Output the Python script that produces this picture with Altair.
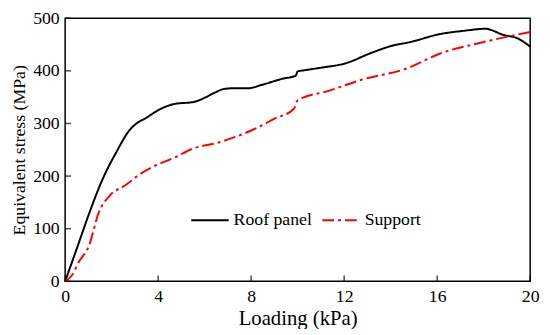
import altair as alt
import pandas as pd

roof_x = [0, 0.5, 1.0, 1.58, 2.22, 2.78, 3.1, 3.42, 4.12, 4.69, 5.54, 5.96, 6.45, 6.88, 7.3, 7.87,
          8.5, 9.35, 9.92, 10.0, 10.27, 11.0, 12.03, 13.16, 14.0, 14.86, 16.13, 17.12, 18.1,
          18.3, 18.8, 19.5, 20.0]
roof_y = [0, 62, 125, 191, 247, 288, 301, 309, 328, 337, 341, 348, 359, 366, 367, 367,
          374, 385, 391, 399, 401, 406, 414, 434, 447, 455, 470, 476, 480,
          478, 469, 461, 446]

sup_x = [0, 0.3, 0.59, 1.02, 1.44, 1.94, 2.57, 3.2, 3.84, 4.69, 5.54, 6.53, 7.23, 8.22,
         9.0, 9.84, 10.0, 11.33, 12.74, 14.72, 16.13, 17.83, 19.24, 20.0]
sup_y = [0, 12, 37, 67, 130, 164, 182, 203, 219, 235, 253, 263, 273, 291,
         309, 328, 344, 362, 383, 405, 433, 453, 467, 474]

series_names = ["Roof panel", "Support"]
x_ticks = [0, 4, 8, 12, 16, 20]
y_ticks = [0, 100, 200, 300, 400, 500]

df = pd.DataFrame({
    "x": roof_x + sup_x,
    "y": roof_y + sup_y,
    "s": [series_names[0]] * len(roof_x) + [series_names[1]] * len(sup_x),
})

W, H = 472, 267
FONT = "Times New Roman, Liberation Serif, DejaVu Serif, serif"

xscale = alt.Scale(domain=[0, 20], nice=False, zero=False)
yscale = alt.Scale(domain=[0, 500], nice=False)

xaxis = alt.Axis(values=x_ticks, title="Loading (kPa)", ticks=False, domain=False, grid=False,
                 labelPadding=7, titlePadding=2, labelFlush=False,
                 labelFont=FONT, titleFont=FONT, labelFontSize=18, titleFontSize=21,
                 labelColor="black", titleColor="black", titleFontWeight="normal")
yaxis = alt.Axis(values=y_ticks, title="Equivalent stress (MPa)", ticks=False, domain=False, grid=False,
                 labelPadding=6, titlePadding=4, labelFlush=False,
                 labelFont=FONT, titleFont=FONT, labelFontSize=18, titleFontSize=18,
                 labelColor="black", titleColor="black", titleFontWeight="normal")

lines = alt.Chart(df).mark_line(strokeWidth=2, interpolate="monotone").encode(
    x=alt.X("x:Q", scale=xscale, axis=xaxis),
    y=alt.Y("y:Q", scale=yscale, axis=yaxis),
    color=alt.Color("s:N", scale=alt.Scale(domain=series_names, range=["#000000", "#ff0000"]),
                    legend=alt.Legend(orient="none", legendX=127, legendY=185, direction="horizontal",
                                      title=None, symbolType="stroke", symbolSize=1444,
                                      symbolStrokeWidth=2, labelOffset=4, columnPadding=6,
                                      labelFont=FONT, labelFontSize=18, labelColor="black")),
    strokeDash=alt.StrokeDash("s:N", scale=alt.Scale(domain=series_names, range=[[1, 0], [12, 4, 3, 4]]),
                              legend=None),
)

xt = alt.Chart(pd.DataFrame({"v": x_ticks})).mark_tick(color="black", thickness=1.5, size=6).encode(
    x=alt.X("v:Q", scale=xscale, axis=xaxis), y=alt.value(H - 3))
yt = alt.Chart(pd.DataFrame({"v": y_ticks})).mark_tick(color="black", thickness=1.5, size=6).encode(
    y=alt.Y("v:Q", scale=yscale, axis=yaxis), x=alt.value(3))

chart = alt.layer(lines, xt, yt).properties(
    width=W, height=H,
    autosize=alt.AutoSizeParams(type="none"),
    padding={"left": 58, "top": 8, "right": 12, "bottom": 46},
).configure(
    background="white", font=FONT
).configure_view(
    stroke="black", strokeWidth=1.5
)

chart.save("out.html", embed_options={"renderer": "svg", "actions": False})
